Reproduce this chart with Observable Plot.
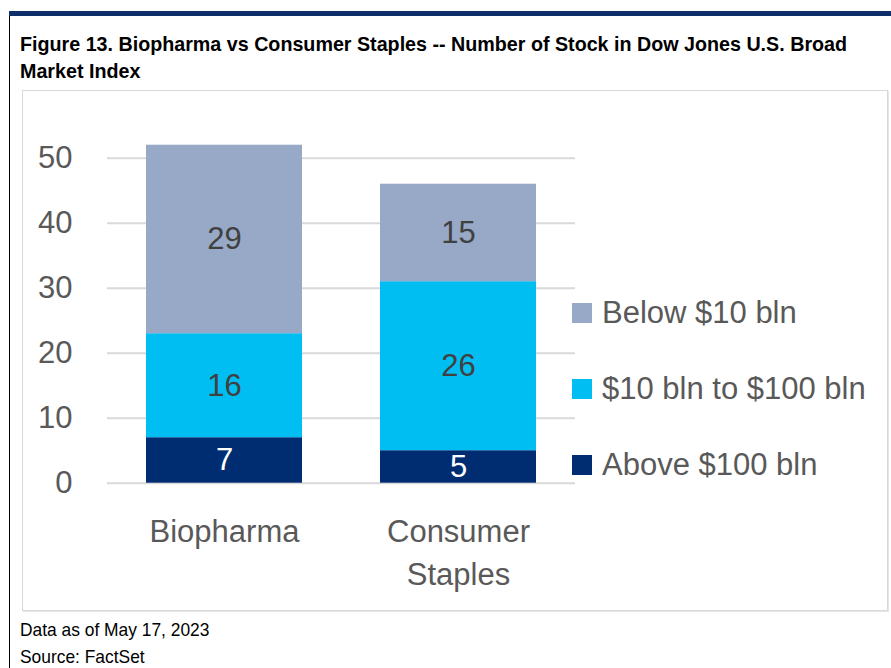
<!DOCTYPE html>
<html>
<head>
<meta charset="utf-8">
<script src="https://cdn.jsdelivr.net/npm/d3@7"></script>
<script src="https://cdn.jsdelivr.net/npm/@observablehq/plot@0.6"></script>
<style>
  html, body { margin: 0; padding: 0; background: #fff; }
  body { width: 891px; height: 668px; position: relative; overflow: hidden; font-family: "Liberation Sans", Arial, sans-serif; }
  .abs { position: absolute; }
  #topbar { left: 9px; top: 11px; width: 882px; height: 5px; background: #0f2f6b; }
  #leftline { left: 9px; top: 16px; width: 1px; height: 652px; background: #000; }
  #title { left: 20px; top: 31px; font-family: "Liberation Sans Narrow", "Arial Narrow", "Liberation Sans", sans-serif; font-weight: bold; font-size: 19.7px; line-height: 27px; color: #000; white-space: nowrap; }
  #box { left: 22px; top: 90px; width: 866px; height: 521px; box-sizing: border-box; border: 1px solid #d9d9d9; box-shadow: 1px 1px 0 #e6e6e6; }
  #chart { left: 0; top: 90px; }
  #footer { left: 20px; top: 616px; font-family: "Liberation Sans Narrow", "Arial Narrow", "Liberation Sans", sans-serif; font-size: 19px; line-height: 27px; color: #000; transform: scaleX(0.915); transform-origin: left top; white-space: nowrap; }
  .leg { position: absolute; left: 572px; height: 30px; display: flex; align-items: center; font-size: 31px; color: #595959; white-space: nowrap; }
  .leg .sw { width: 20px; height: 20px; margin-right: 10px; }
</style>
</head>
<body>
<div id="topbar" class="abs"></div>
<div id="leftline" class="abs"></div>
<div id="title" class="abs">Figure 13. Biopharma vs Consumer Staples -- Number of Stock in Dow Jones U.S. Broad<br>Market Index</div>
<div id="box" class="abs"></div>
<div id="chart" class="abs"></div>
<div id="legend"></div>
<div id="footer" class="abs">Data as of May 17, 2023<br>Source: FactSet</div>
<script>
const categories = ["Biopharma", "Consumer Staples"];
const categoryLabels = ["Biopharma", "Consumer\nStaples"];
const series = ["Above $100 bln", "$10 bln to $100 bln", "Below $10 bln"];
const biopharma = [7, 16, 29];
const consumerStaples = [5, 26, 15];
const yTicks = [0, 10, 20, 30, 40, 50];
const colors = ["#002d72", "#00bef2", "#97a9c6"];
const legendOrder = ["Below $10 bln", "$10 bln to $100 bln", "Above $100 bln"];

const values = [biopharma, consumerStaples];
const data = [];
categories.forEach((c, i) => series.forEach((s, j) => data.push({category: c, series: s, value: values[i][j]})));

const chart = Plot.plot({
  width: 891,
  height: 521,
  marginLeft: 107,
  marginRight: 316,
  marginTop: 35.2,
  marginBottom: 128.3,
  style: {background: "transparent", fontFamily: "'Liberation Sans', Arial, sans-serif", fontSize: "31px"},
  x: {domain: categories, paddingInner: 1/3, paddingOuter: 1/6, axis: null},
  y: {domain: [0, 55], axis: null},
  color: {domain: series, range: colors},
  marks: [
    Plot.ruleY(yTicks, {stroke: "#d9d9d9", strokeWidth: 2}),
    Plot.barY(data, {x: "category", y: "value", fill: "series"}),
    Plot.text(data, Plot.stackY({x: "category", y: "value", z: "series", text: d => String(d.value),
      fill: d => d.series === series[0] ? "#ffffff" : "#404040", fontSize: 31})),
    Plot.axisY({ticks: yTicks, tickSize: 0, tickPadding: 35, color: "#595959", fontSize: 31, label: null}),
    Plot.text(categories, {x: d => d, y: 0, text: (d, i) => categoryLabels[i], lineAnchor: "top", dy: 28,
      lineHeight: 1.4, fill: "#595959", fontSize: 31})
  ]
});
document.getElementById("chart").appendChild(chart);

const legend = document.getElementById("legend");
const legendTops = [298, 374, 450];
legendOrder.forEach((s, i) => {
  const row = document.createElement("div");
  row.className = "leg";
  row.style.top = legendTops[i] + "px";
  const sw = document.createElement("div");
  sw.className = "sw";
  sw.style.background = colors[series.indexOf(s)];
  const t = document.createElement("span");
  t.textContent = s;
  row.appendChild(sw);
  row.appendChild(t);
  legend.appendChild(row);
});
</script>
</body>
</html>
